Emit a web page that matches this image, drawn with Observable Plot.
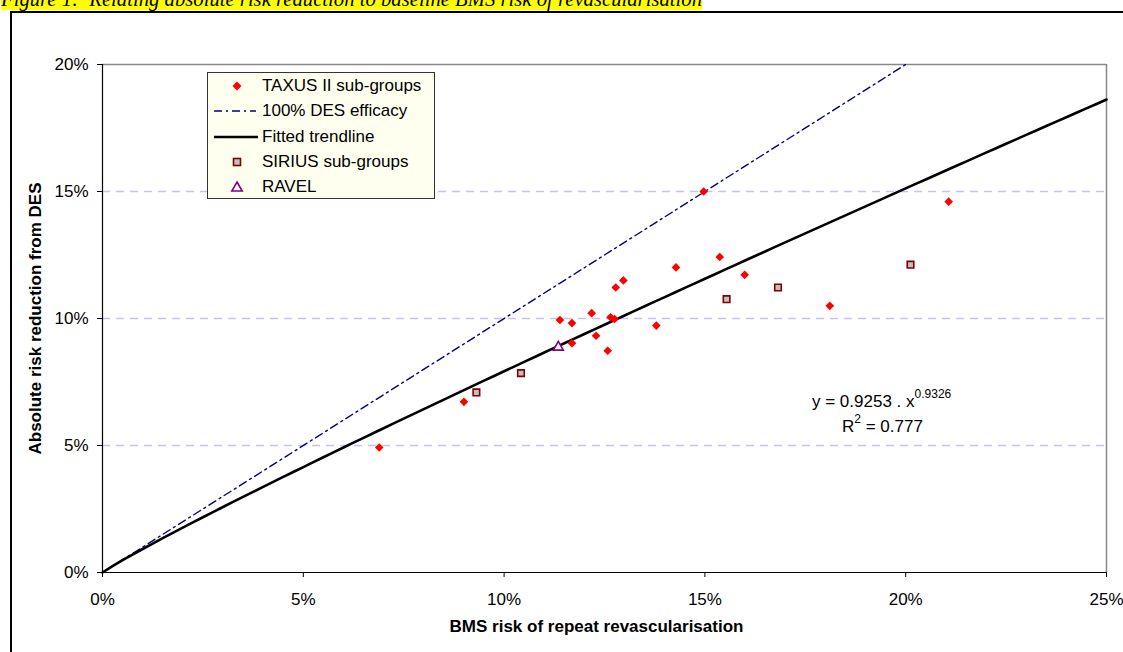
<!DOCTYPE html>
<html>
<head>
<meta charset="utf-8">
<script src="https://cdn.jsdelivr.net/npm/d3@7"></script>
<script src="https://cdn.jsdelivr.net/npm/@observablehq/plot@0.6"></script>
<style>
  html, body { margin: 0; padding: 0; background: #fff; }
  #wrap { position: relative; width: 1123px; height: 652px; overflow: hidden; font-family: "Liberation Sans", Arial, sans-serif; }
  #title { position: absolute; left: 1px; top: -12px; font-family: "Liberation Serif", "Times New Roman", serif; font-style: italic; font-size: 20.7px; line-height: 23px; white-space: nowrap; }
  #title span { background: #ffff00; }
  #box { position: absolute; left: 10px; top: 11px; width: 1300px; height: 900px; border: 2px solid #000; }
  #chart { position: absolute; left: 0; top: 0; }
  #legend { position: absolute; left: 207px; top: 72px; width: 226px; height: 125px; background: #fffff0; border: 1px solid #333; font-size: 17px; }
  .row { position: absolute; left: 0; height: 24px; width: 226px; }
  .row svg { position: absolute; left: 4px; top: 0; }
  .row .lbl { position: absolute; left: 54px; top: 2px; line-height: 20px; white-space: nowrap; }
  .eq { position: absolute; font-size: 17px; white-space: nowrap; line-height: 20px; }
  .eq sup { font-size: 12px; position: relative; top: -2px; }
</style>
</head>
<body>
<div id="wrap">
  <div id="box"></div>
  <div id="title"><span>Figure 1:&nbsp; Relating absolute risk reduction to baseline BMS risk of revascularisation</span></div>
  <div id="chart"></div>
  <div id="legend"></div>
  <div class="eq" id="eq1" style="left:812px; top:386px;">y = 0.9253 . x<sup>0.9326</sup></div>
  <div class="eq" id="eq2" style="left:842px; top:411px;">R<sup>2</sup> = 0.777</div>
</div>
<script>
// ---- data ----
const xTicks = [0, 5, 10, 15, 20, 25];
const yTicks = [0, 5, 10, 15, 20];
const gridY = [5, 10, 15];

const taxusX = [6.89, 9.0, 11.39, 11.69, 12.18, 12.65, 12.75, 13.79, 11.69, 12.29, 12.58, 12.78, 12.97, 14.97, 14.28, 15.37, 15.99, 18.11, 21.07];
const taxusY = [4.92, 6.72, 9.94, 9.82, 10.21, 10.05, 9.98, 9.72, 9.03, 9.32, 8.73, 11.22, 11.5, 15.0, 12.01, 12.42, 11.72, 10.5, 14.6];

const siriusX = [9.31, 10.42, 15.54, 16.82, 20.12];
const siriusY = [7.09, 7.85, 10.76, 11.22, 12.12];

const ravelX = [11.35];
const ravelY = [8.87];

// 100% DES efficacy line (y = x)
const desX = [0, 20];
const desY = [0, 20];

// Fitted power trendline y = a . x^b  (as printed on the chart)
const trendA = 0.9253;
const trendB = 0.9326;
const trendXRange = [0, 25];

const seriesNames = ["TAXUS II sub-groups", "100% DES efficacy", "Fitted trendline", "SIRIUS sub-groups", "RAVEL"];

// ---- tables ----
const taxus = taxusX.map((x, i) => ({x, y: taxusY[i]}));
const sirius = siriusX.map((x, i) => ({x, y: siriusY[i]}));
const ravel = ravelX.map((x, i) => ({x, y: ravelY[i]}));
const des = desX.map((x, i) => ({x, y: desY[i]}));
const trend = d3.range(trendXRange[0], trendXRange[1] + 0.001, 0.25).map(x => ({x, y: trendA * Math.pow(x, trendB)}));

const pct = d => d + "%";

const chart = Plot.plot({
  width: 1123,
  height: 652,
  marginTop: 64,
  marginRight: 17,
  marginBottom: 80,
  marginLeft: 102,
  x: {domain: [0, 25]},
  y: {domain: [0, 20]},
  style: {fontFamily: "'Liberation Sans', Arial, sans-serif", fontSize: "17px", color: "#000", background: "transparent", overflow: "visible"},
  marks: [
    Plot.ruleY(gridY, {stroke: "#c4c4f4", strokeWidth: 1.3, strokeDasharray: "8,6"}),
    Plot.ruleY([20], {stroke: "#888", strokeWidth: 1.5}),
    Plot.ruleX([25], {stroke: "#888", strokeWidth: 1.5}),
    Plot.axisX({ticks: xTicks, tickFormat: pct, tickSize: 5, tickPadding: 15, label: null, stroke: "#000"}),
    Plot.axisY({ticks: yTicks, tickFormat: pct, tickSize: 5, tickPadding: 9, label: null, stroke: "#000"}),
    Plot.ruleX([0], {stroke: "#000", strokeWidth: 1.2}),
    Plot.ruleY([0], {stroke: "#000", strokeWidth: 1.2}),
    Plot.line(des, {x: "x", y: "y", stroke: "#000080", strokeWidth: 1.4, strokeDasharray: "8,4,2,4"}),
    Plot.line(trend, {x: "x", y: "y", stroke: "#000", strokeWidth: 2.6}),
    Plot.dot(taxus, {x: "x", y: "y", symbol: "diamond2", r: 3.9, fill: "#ff0000"}),
    Plot.dot(sirius, {x: "x", y: "y", symbol: "square", r: 3.7, fill: "#c0c0c0", stroke: "#800000", strokeWidth: 1.6}),
    Plot.dot(ravel, {x: "x", y: "y", symbol: "triangle", r: 3.7, fill: "#fff", stroke: "#800080", strokeWidth: 1.6}),
    Plot.text(["BMS risk of repeat revascularisation"], {frameAnchor: "bottom", dy: 59, dx: -8, fontWeight: "bold", fontSize: 17}),
    Plot.text(["Absolute risk reduction from DES"], {frameAnchor: "left", textAnchor: "middle", rotate: -90, dx: -67, fontWeight: "bold", fontSize: 17})
  ]
});
document.getElementById("chart").appendChild(chart);

// ---- legend ----
const legend = document.getElementById("legend");
const swatches = [
  `<svg width="46" height="24"><path transform="translate(25,12)" d="M0,-4.5L4.5,0L0,4.5L-4.5,0Z" fill="#ff0000"/></svg>`,
  `<svg width="46" height="24"><line x1="2" y1="12" x2="44" y2="12" stroke="#000080" stroke-width="1.4" stroke-dasharray="8,4,2,4"/></svg>`,
  `<svg width="46" height="24"><line x1="2" y1="12" x2="46" y2="12" stroke="#000" stroke-width="2.6"/></svg>`,
  `<svg width="46" height="24"><rect x="21.5" y="8.5" width="7" height="7" fill="#c0c0c0" stroke="#800000" stroke-width="1.6"/></svg>`,
  `<svg width="46" height="24"><path transform="translate(25,13)" d="M0,-6L5.2,3L-5.2,3Z" fill="#fff" stroke="#800080" stroke-width="1.6"/></svg>`
];
seriesNames.forEach((name, i) => {
  const row = document.createElement("div");
  row.className = "row";
  row.style.top = (1 + i * 25.3) + "px";
  row.innerHTML = swatches[i] + `<span class="lbl">${name}</span>`;
  legend.appendChild(row);
});
</script>
</body>
</html>
